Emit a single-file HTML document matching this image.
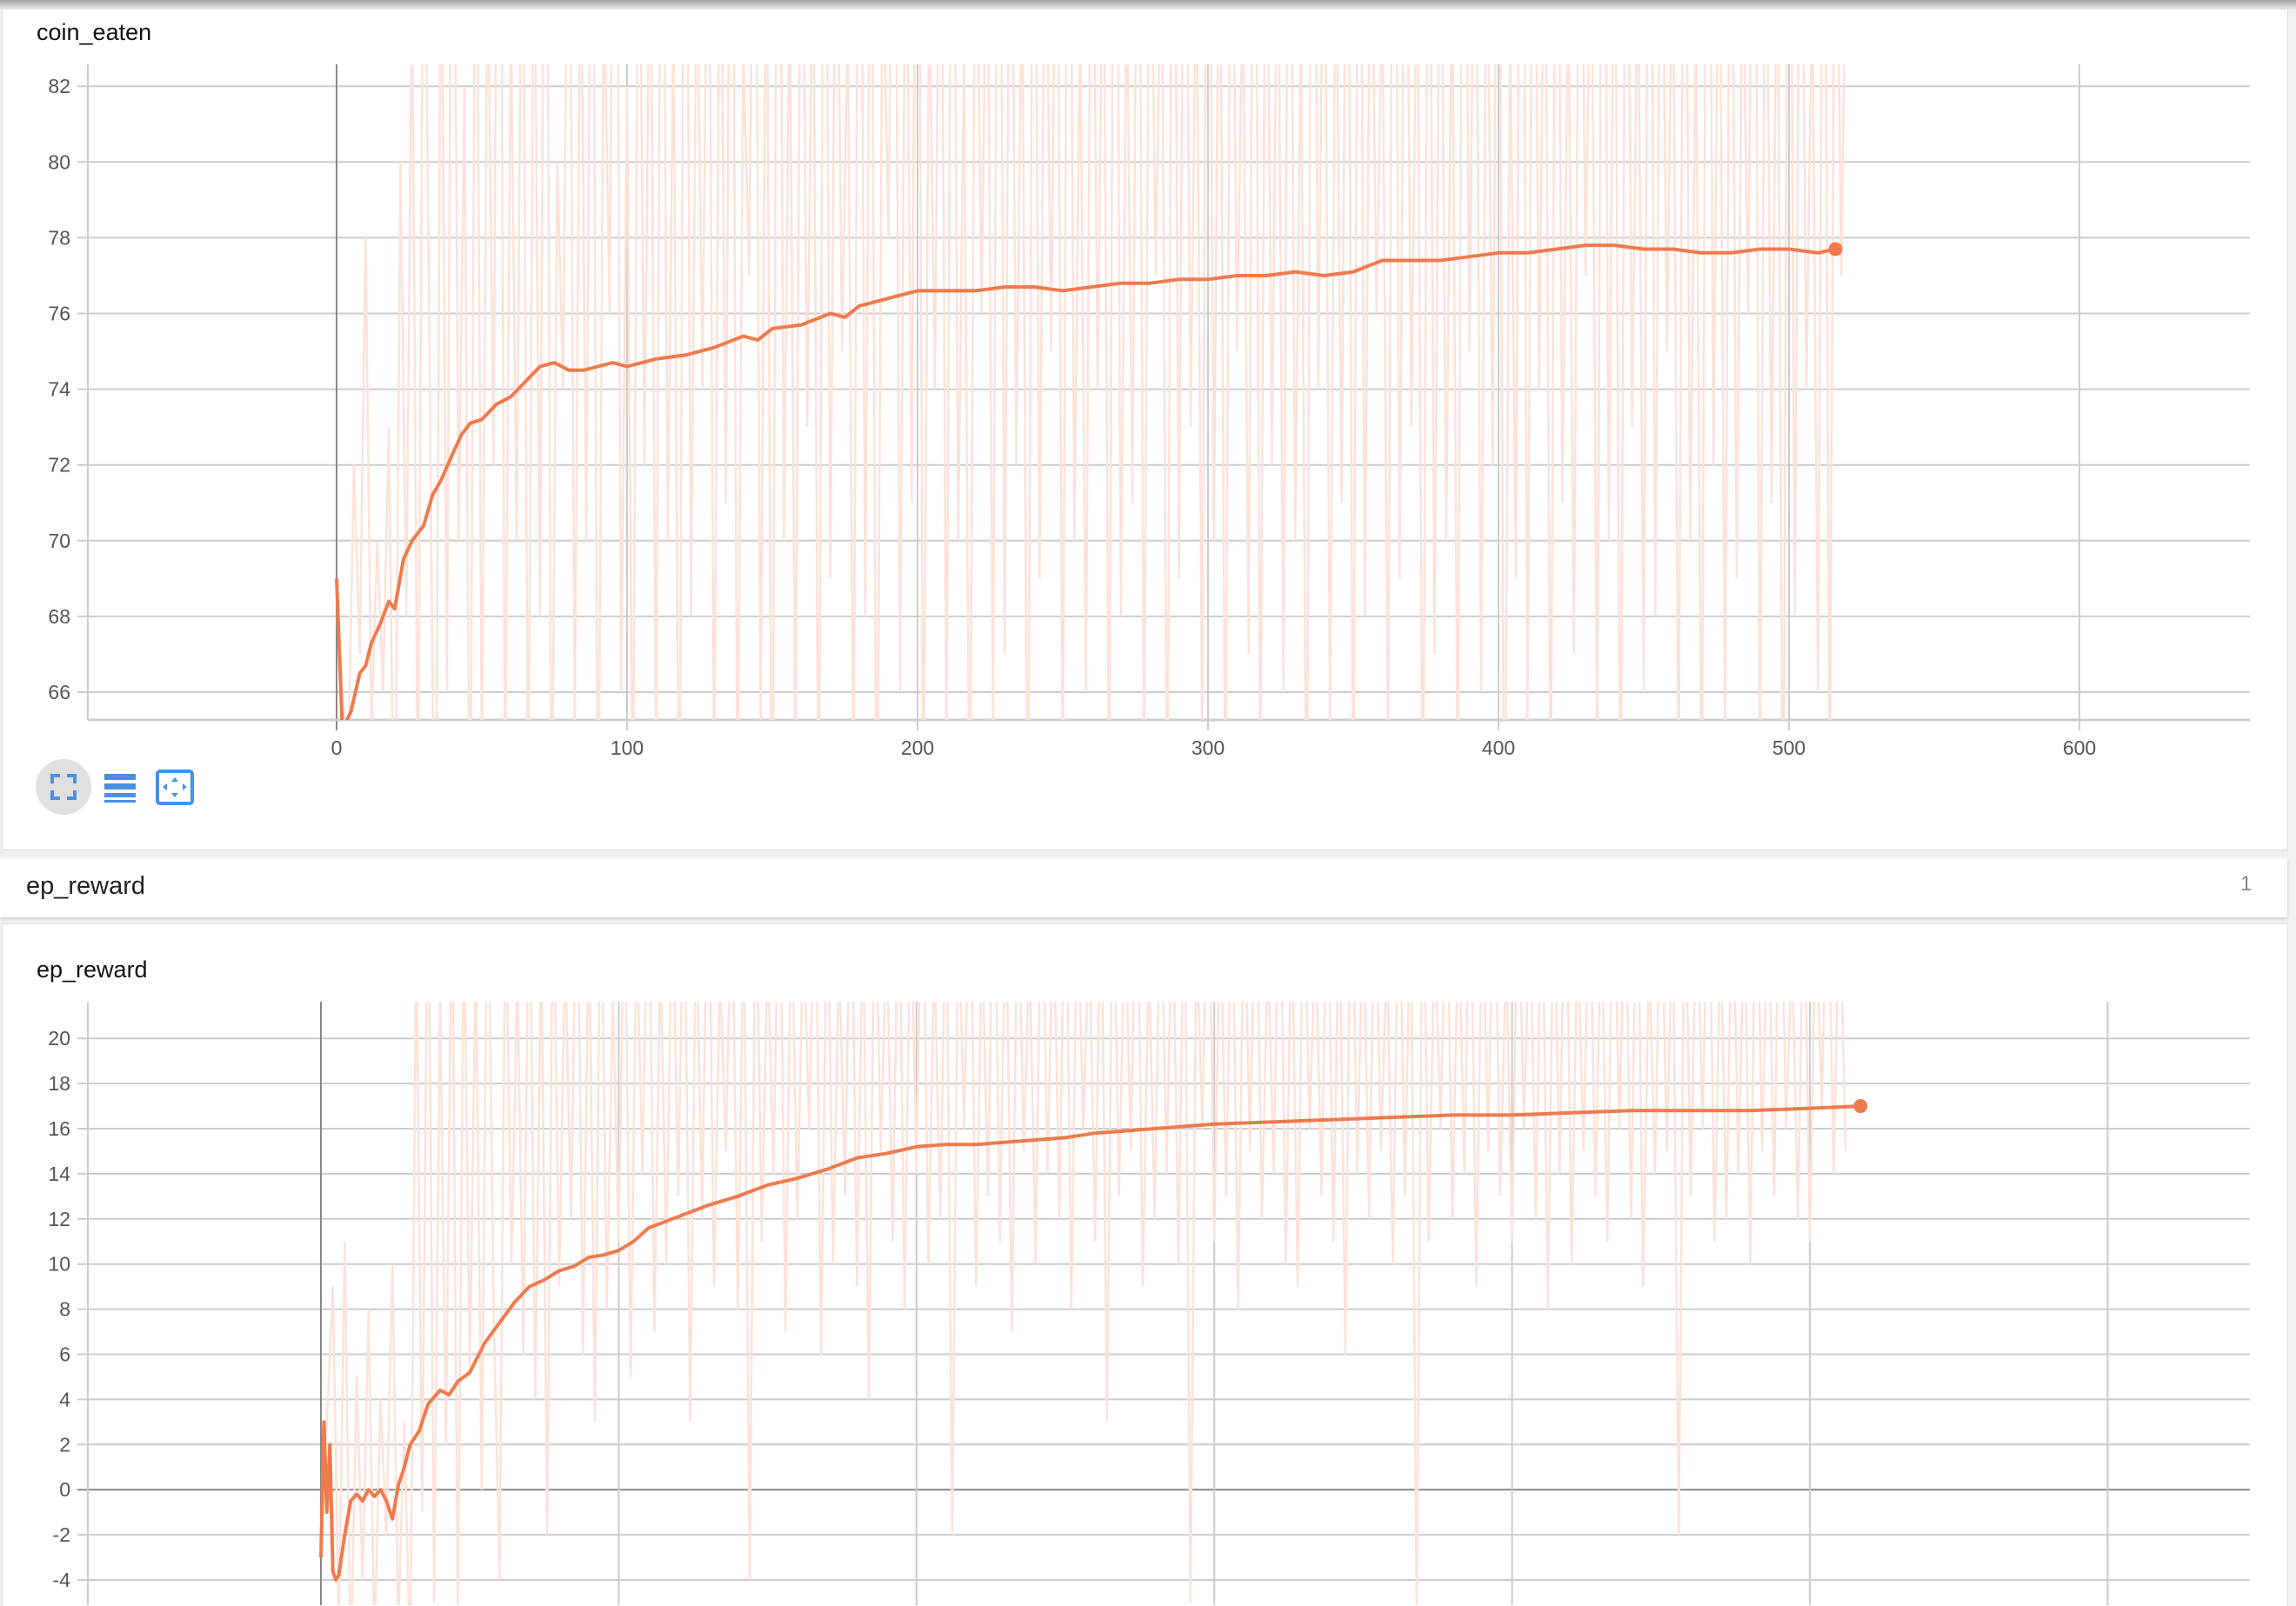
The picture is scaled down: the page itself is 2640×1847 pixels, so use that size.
<!DOCTYPE html>
<html><head><meta charset="utf-8">
<style>
html,body{margin:0;padding:0;width:2640px;height:1846px;overflow:hidden;background:#f1f1f1;font-family:"Liberation Sans",sans-serif;}
.card{position:absolute;background:#fff;}
.title{position:absolute;font-size:27px;color:#111;}
svg{position:absolute;left:0;top:0;}
</style></head><body>
<div style="position:absolute;left:0;top:0;width:2640px;height:12px;background:linear-gradient(#a5a5a5,#f1f1f1);"></div>
<div class="card" style="left:2px;top:10px;width:2627px;height:966px;border:1px solid #ddd;"></div>
<div class="title" style="left:42px;top:22px;">coin_eaten</div>
<div class="card" style="left:0;top:987px;width:2630px;height:68px;box-shadow:0 2px 4px rgba(0,0,0,0.15);"></div>
<div class="title" style="left:30px;top:1003px;font-size:29px;color:#222;">ep_reward</div>
<div style="position:absolute;left:2576px;top:1003px;font-size:24px;color:#888;">1</div>
<div class="card" style="left:2px;top:1062px;width:2627px;height:784px;border:1px solid #ddd;border-bottom:none;"></div>
<div class="title" style="left:42px;top:1100px;">ep_reward</div>

<div style="position:absolute;left:41px;top:873px;width:64px;height:64px;border-radius:50%;background:#e0e0e0;">
<svg width="64" height="64"><path d="M19 28V19H28M36 19H45V28M45 36V45H36M28 45H19V36" stroke="#4a90e2" stroke-width="4" fill="none"/></svg></div>
<div style="position:absolute;left:118px;top:888px;width:38px;height:36px;">
<svg width="38" height="36"><rect x="2" y="2" width="36" height="7" fill="#4a90e2"/><rect x="2" y="13" width="36" height="7" fill="#4a90e2"/><rect x="2" y="24" width="36" height="5" fill="#4a90e2"/><rect x="2" y="32" width="36" height="3" fill="#4a90e2"/></svg></div>
<div style="position:absolute;left:179px;top:885px;width:46px;height:42px;">
<svg width="46" height="42"><rect x="2" y="2" width="40" height="37" rx="3" fill="none" stroke="#4a90e2" stroke-width="4"/><path d="M22 9l4 5h-8zM22 32l4-5h-8zM8 20l5-4v8zM36 20l-5-4v8z" fill="#4a90e2"/></svg></div>

<svg id="chart" width="2640" height="1846"></svg>

<script>
// ---- coin_eaten data ----
const coinTicksY = [66,68,70,72,74,76,78,80,82];
const coinTicksX = [0,100,200,300,400,500,600];
const coinSmoothSteps = [0,2,5,8,10,12,15,18,20,23,26,30,33,36,40,43,46,50,55,60,65,70,75,80,85,90,95,100,110,120,130,140,145,150,160,170,175,180,190,200,210,220,230,240,250,260,270,280,290,300,310,320,330,340,350,360,370,380,390,400,410,420,430,440,450,460,470,480,490,500,510,516];
const coinSmooth = [69,65,65.5,66.5,66.7,67.3,67.8,68.4,68.2,69.5,70,70.4,71.2,71.6,72.3,72.8,73.1,73.2,73.6,73.8,74.2,74.6,74.7,74.5,74.5,74.6,74.7,74.6,74.8,74.9,75.1,75.4,75.3,75.6,75.7,76.0,75.9,76.2,76.4,76.6,76.6,76.6,76.7,76.7,76.6,76.7,76.8,76.8,76.9,76.9,77.0,77.0,77.1,77.0,77.1,77.4,77.4,77.4,77.5,77.6,77.6,77.7,77.8,77.8,77.7,77.7,77.6,77.6,77.7,77.7,77.6,77.7];
const coinRaw = [69,66,64,72,67,78,65,70,66,73,60,80,68,85,62,90,75,58,88,66,95,70,82,60,92,64,86,72,99,63,84,70,90,62,88,68,96,61,80,74,92,65,87,70,94,60,85,76,98,66,82,62,90,72,88,64,95,70,84,60,97,68,86,74,91,63,89,71,96,62,83,77,93,65,88,59,99,70,85,64,92,73,87,61,95,69,90,75,84,63,97,68,91,60,86,78,94,66,89,71,99,62,85,74,92,64,96,70,83,61,90,76,88,65,98,67,93,72,86,60,95,69,89,75,91,63,97,70,84,66,92,74,88,62,99,68,85,71,94,64,90,77,87,61,96,69,93,73,86,65,98,70,89,62,92,75,85,67,97,63,91,72,88,66,95,70,84,60,99,74,90,65,87,71,93,62,96,68,89,76,85,64,98,69,92,73,87,61,94,67,90,70,86,63,97,75,91,66,88,72,95,59,84,69,99,65,93,74,89,62,96,71,85,67,92,77,88,64,98,70,90,61,94,73,86,66,97,68,91,75,87,63,95,70,84,62,99,72,89,65,93,69,86,76,96,64,90,71,88,60,97,68,92,74,85,66,94,63,91,77,88];
// ---- ep_reward data ----
const rewTicksY = [-4,-2,0,2,4,6,8,10,12,14,16,18,20];
const rewTicksX = [0,100,200,300,400,500,600];
const rewSmoothSteps = [0,1,2,3,4,5,6,8,10,12,14,16,18,20,22,24,26,28,30,33,36,40,43,46,50,55,60,65,70,75,80,85,90,95,100,105,110,120,130,140,150,160,170,180,190,200,210,220,230,240,250,260,270,280,290,300,320,340,360,380,400,420,440,460,480,500,517];
const rewSmooth = [-3,3,-1,2,-3.6,-4,-3.8,-2,-0.5,-0.2,-0.5,0,-0.3,0,-0.5,-1.3,0.2,1,2,2.6,3.8,4.4,4.2,4.8,5.2,6.5,7.4,8.3,9.0,9.3,9.7,9.9,10.3,10.4,10.6,11.0,11.6,12.1,12.6,13.0,13.5,13.8,14.2,14.7,14.9,15.2,15.3,15.3,15.4,15.5,15.6,15.8,15.9,16.0,16.1,16.2,16.3,16.4,16.5,16.6,16.6,16.7,16.8,16.8,16.8,16.9,17.0];
const rewRaw = [-3,3,9,-6,11,-8,5,-4,8,-7,4,-2,10,-6,3,-8,25,-1,30,-5,22,2,28,-6,26,5,24,0,30,8,-4,27,10,23,6,29,4,25,-2,28,9,24,12,30,6,26,3,29,8,22,11,28,5,25,14,30,7,24,10,27,13,29,3,26,12,30,9,23,15,28,8,26,-4,29,11,24,14,30,7,27,12,25,16,29,6,28,10,24,13,30,9,26,4,28,15,25,11,29,8,27,14,30,10,24,12,28,-2,26,16,29,9,25,13,30,11,27,7,28,15,24,10,29,14,26,12,30,8,27,16,25,11,28,3,29,13,26,15,30,9,24,12,28,14,27,10,29,-5,25,16,30,11,26,13,28,8,27,15,29,12,24,14,30,10,26,9,28,16,25,13,29,11,27,6,30,14,26,12,28,15,24,10,29,13,27,-6,30,11,25,16,28,12,26,14,29,9,27,15,30,13,24,11,28,16,26,12,29,8,27,14,30,10,25,15,28,13,26,11,29,16,27,12,30,9,24,14,28,15,26,-2,29,13,27,16,30,11,25,12,28,14,26,10,29,15,27,13,30,16,24,12,28,11,26,17,29,14,27,15];

const NS='http://www.w3.org/2000/svg';
const svg=document.getElementById('chart');
function mk(tag,attrs,parent){const e=document.createElementNS(NS,tag);for(const k in attrs)e.setAttribute(k,attrs[k]);(parent||svg).appendChild(e);return e;}

function drawChart(cfg){
  const {left,right,top,bottom,x0px,pxPer100,yRefVal,yRefPx,pxPer2,ticksX,ticksY,raw,rawStep,sSteps,sVals,prefix,zero,clipBottom}=cfg;
  const xs=v=>x0px+v*pxPer100/100;
  const ys=v=>yRefPx-(v-yRefVal)*pxPer2/2;
  const clipId=prefix+'-clip';
  const defs=mk('defs',{});
  const cp=mk('clipPath',{id:clipId},defs);
  mk('rect',{x:left,y:top,width:right-left,height:clipBottom-top},cp);
  const grid=mk('g',{});
  
  
  ticksY.forEach(t=>{
    const y=ys(t);
    const l=mk('line',{x1:left-12,x2:right,y1:y,y2:y,stroke:(zero&&t===0)?'#888':'#ccc','stroke-width':2},grid);
    
    
    const tx=mk('text',{x:left-20,y:y+8,'text-anchor':'end','font-size':23,fill:'#555','font-family':'Liberation Sans, sans-serif'});
    
    
    tx.textContent=t;
  });
  ticksX.forEach(t=>{
    const x=xs(t);
    const l=mk('line',{x1:x,x2:x,y1:top,y2:bottom+(bottom<1846?12:0),stroke:t===0?'#888':'#ccc','stroke-width':2},grid);
    
    
    if(bottom<1846){
      const tx=mk('text',{x:x,y:bottom+40,'text-anchor':'middle','font-size':23,fill:'#555','font-family':'Liberation Sans, sans-serif'});
      
      
      tx.textContent=t;
    }
  });
  const la=mk('line',{x1:left,x2:left,y1:top,y2:bottom,stroke:'#ccc','stroke-width':2},grid);
  
  
  if(bottom<1846){
    const ba=mk('line',{x1:left,x2:right,y1:bottom,y2:bottom,stroke:'#ccc','stroke-width':3},grid);
    
    
  }
  const rawPts=raw.map((v,i)=>xs(i*rawStep).toFixed(1)+','+ys(v).toFixed(1)).join(' ');
  const rl=mk('polyline',{points:rawPts,fill:'none',stroke:'#fbe2d9','stroke-width':2.5,'clip-path':'url(#'+clipId+')'});
  
  
  const sPts=sVals.map((v,i)=>xs(sSteps[i]).toFixed(1)+','+ys(v).toFixed(1)).join(' ');
  const sl=mk('polyline',{points:sPts,fill:'none',stroke:'#ef7a4e','stroke-width':4,'stroke-linejoin':'round','clip-path':'url(#'+clipId+')'});
  
  
  const n=sVals.length-1;
  const dot=mk('circle',{cx:xs(sSteps[n]),cy:ys(sVals[n]),r:8,fill:'#ef7a4e'});
  
  
}

drawChart({prefix:'coin-eaten',left:101,right:2587,top:74,bottom:828,clipBottom:828,x0px:387,pxPer100:334,yRefVal:66,yRefPx:796,pxPer2:87.1,ticksX:coinTicksX,ticksY:coinTicksY,raw:coinRaw,rawStep:2,sSteps:coinSmoothSteps,sVals:coinSmooth,zero:false});
drawChart({prefix:'ep-reward',left:101,right:2587,top:1152,bottom:1846,clipBottom:1846,x0px:369,pxPer100:342.4,yRefVal:-4,yRefPx:1817,pxPer2:51.9,ticksX:rewTicksX,ticksY:rewTicksY,raw:rewRaw,rawStep:2,sSteps:rewSmoothSteps,sVals:rewSmooth,zero:true});
</script>
</body></html>
